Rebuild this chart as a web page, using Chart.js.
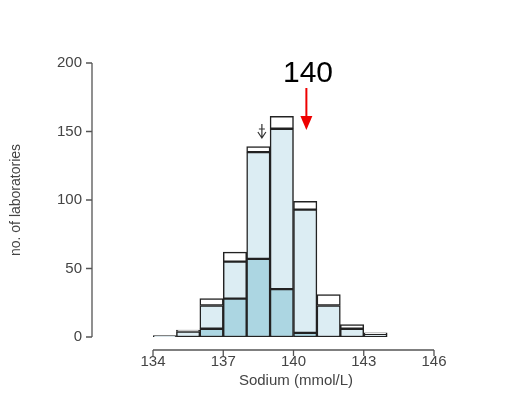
<!DOCTYPE html>
<html><head><script src="https://cdn.jsdelivr.net/npm/chart.js@4"></script>
<style>body{margin:0;background:#fff}#w{width:505px;height:407px}</style></head>
<body><div id="w"><canvas id="c"></canvas></div>
<script>
const binCenters=[134.5,135.5,136.5,137.5,138.5,139.5,140.5,141.5,142.5,143.5];
const darkVals=[0,0,6,28,57,35,3,0,0,0];
const lightVals=[1,4,17,27,78,117,90,23,6,2];
const whiteVals=[0,1,5,7,4,9,6,8,3,1];
const xTicks=[134,137,140,143,146];
const yTicks=[0,50,100,150,200];
const mk=(v)=>binCenters.map((x,i)=>({x,y:v[i]}));
const ds=(label,v,c)=>({label,data:mk(v),backgroundColor:c,borderColor:'#222',borderWidth:1.5,barPercentage:1,categoryPercentage:1,borderSkipped:false});
const axes={id:'axes',afterDraw(ch){const c=ch.ctx,x=ch.scales.x,y=ch.scales.y;c.save();c.strokeStyle='#555';c.lineWidth=1.3;
 const yb=350,xl=92;
 c.beginPath();c.moveTo(x.getPixelForValue(134),yb);c.lineTo(x.getPixelForValue(146),yb);
 xTicks.forEach(t=>{const p=x.getPixelForValue(t);c.moveTo(p,yb);c.lineTo(p,yb+6);});
 c.moveTo(xl,y.getPixelForValue(0));c.lineTo(xl,y.getPixelForValue(200));
 yTicks.forEach(t=>{const p=y.getPixelForValue(t);c.moveTo(xl,p);c.lineTo(xl-6,p);});c.stroke();
 c.fillStyle='#444';c.font='15px Liberation Sans, Arial';c.textAlign='center';c.textBaseline='top';
 xTicks.forEach(t=>c.fillText(String(t),x.getPixelForValue(t),354));
 c.fillText('Sodium (mmol/L)',296,373);
 c.textAlign='right';c.textBaseline='middle';
 yTicks.forEach(t=>c.fillText(String(t),82,y.getPixelForValue(t)));
 c.save();c.translate(16,200);c.rotate(-Math.PI/2);c.textAlign='center';c.font='14px Liberation Sans, Arial';c.fillText('no. of laboratories',0,0);c.restore();
 c.fillStyle='#000';c.font='30px Liberation Sans, Arial';c.textAlign='center';c.textBaseline='alphabetic';c.fillText('140',308,82);
 const ax=x.getPixelForValue(140.55);c.strokeStyle='#e00';c.fillStyle='#e00';c.lineWidth=2;c.beginPath();c.moveTo(ax,88);c.lineTo(ax,122);c.stroke();
 c.beginPath();c.moveTo(ax-6,116);c.lineTo(ax+6,116);c.lineTo(ax,130);c.closePath();c.fill();
 const sx=x.getPixelForValue(138.65);c.strokeStyle='#333';c.lineWidth=1.2;c.beginPath();c.moveTo(sx,124);c.lineTo(sx,138);c.moveTo(sx-4,132);c.lineTo(sx,138);c.lineTo(sx+4,132);c.moveTo(sx-3,129);c.lineTo(sx+3,129);c.stroke();
 c.restore();}};
new Chart(document.getElementById('c'),{type:'bar',data:{datasets:[ds('a',darkVals,'#acd6e2'),ds('b',lightVals,'#dcedf3'),ds('c',whiteVals,'#ffffff')]},
options:{responsive:true,maintainAspectRatio:false,animation:false,layout:{padding:{top:63,right:71,left:0,bottom:0}},
plugins:{legend:{display:false},tooltip:{enabled:false}},
scales:{x:{type:'linear',offset:false,stacked:true,min:134,max:146,grid:{display:false},border:{display:false},ticks:{display:false},afterFit:s=>{s.height=70}},
y:{stacked:true,min:0,max:200,grid:{display:false},border:{display:false},ticks:{display:false},afterFit:s=>{s.width=153}}}},
plugins:[axes]});
</script></body></html>
